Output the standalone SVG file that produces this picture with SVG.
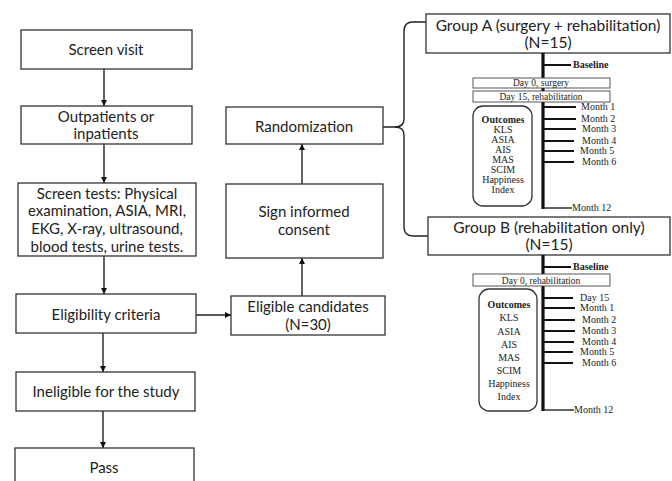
<svg xmlns="http://www.w3.org/2000/svg" width="672" height="481" viewBox="0 0 672 481">
<style>
.box{fill:#fff;stroke:#333;stroke-width:1.3}
.t{font-family:Lato,"Liberation Sans",sans-serif;font-size:15px;fill:#222;text-anchor:middle}
.g{font-family:Lato,"Liberation Sans",sans-serif;font-size:15.5px;fill:#222;text-anchor:middle}
.s{font-family:"Liberation Serif",serif;font-size:10px;fill:#222}
.sc{font-family:"Liberation Serif",serif;font-size:10px;fill:#222;text-anchor:middle}
.sd{font-family:"Liberation Serif",serif;font-size:9.5px;fill:#222;text-anchor:middle}
.b{font-weight:bold}
.ln{stroke:#222;stroke-width:1.4;fill:none}
.tl{stroke:#111;stroke-width:3.2;fill:none}
.tk{stroke:#111;stroke-width:2;fill:none}
.sb{fill:#fff;stroke:#444;stroke-width:0.9}
.ob{fill:#fff;stroke:#333;stroke-width:1.3}
</style>
<defs>
<marker id="ah" viewBox="0 0 10 10" refX="10" refY="5" markerWidth="6" markerHeight="6" markerUnits="userSpaceOnUse" orient="auto">
<path d="M0,0 L10,5 L0,10 z" fill="#111"/>
</marker>
</defs>
<rect width="672" height="481" fill="#fff"/>

<g id="connectors">
<line class="ln" x1="104" y1="69" x2="104" y2="106" marker-end="url(#ah)"/>
<line class="ln" x1="104" y1="144" x2="104" y2="183" marker-end="url(#ah)"/>
<line class="ln" x1="104" y1="256" x2="104" y2="294" marker-end="url(#ah)"/>
<line class="ln" x1="103" y1="333" x2="103" y2="372" marker-end="url(#ah)"/>
<line class="ln" x1="103" y1="411" x2="103" y2="448" marker-end="url(#ah)"/>
<line class="ln" x1="196" y1="315" x2="231" y2="315" marker-end="url(#ah)"/>
<line class="ln" x1="302" y1="296" x2="302" y2="258" marker-end="url(#ah)"/>
<line class="ln" x1="302" y1="184" x2="302" y2="144" marker-end="url(#ah)"/>
<path class="ln" d="M383,127 H395 Q404,127 404,119 V31 Q404,22 413,22 H426"/>
<path class="ln" d="M395,127 Q404,127 404,135 V227 Q404,236 413,236 H428"/>
</g>

<g id="screen-visit"><rect class="box" x="21" y="30" width="171" height="39"/><text class="t" x="106" y="55">Screen visit</text></g>
<g id="outpatients"><rect class="box" x="21" y="106" width="171" height="38"/><text class="t" x="106" y="122">Outpatients or</text><text class="t" x="106" y="139">inpatients</text></g>
<g id="screen-tests"><rect class="box" x="18" y="183" width="178" height="73"/>
<text class="t" x="107" y="199">Screen tests: Physical</text>
<text class="t" x="107" y="216">examination, ASIA, MRI,</text>
<text class="t" x="107" y="234">EKG, X-ray, ultrasound,</text>
<text class="t" x="107" y="252">blood tests, urine tests.</text></g>
<g id="eligibility"><rect class="box" x="16" y="294" width="180" height="39"/><text class="t" x="106" y="320">Eligibility criteria</text></g>
<g id="ineligible"><rect class="box" x="16" y="372" width="179" height="39"/><text class="t" x="106" y="397">Ineligible for the study</text></g>
<g id="pass"><rect class="box" x="15" y="448" width="179" height="40"/><text class="t" x="104" y="473">Pass</text></g>

<g id="randomization"><rect class="box" x="226" y="107" width="157" height="37"/><text class="t" x="304" y="132">Randomization</text></g>
<g id="consent"><rect class="box" x="226" y="184" width="157" height="74"/><text class="t" x="304" y="217">Sign informed</text><text class="t" x="304" y="235">consent</text></g>
<g id="eligible"><rect class="box" x="231" y="296" width="154" height="39"/><text class="t" x="308" y="312">Eligible candidates</text><text class="t" x="308" y="330">(N=30)</text></g>

<g id="group-a">
<rect class="box" x="426" y="14" width="244" height="39"/>
<text class="g" x="548" y="31">Group A (surgery + rehabilitation)</text>
<text class="g" x="548" y="48">(N=15)</text>
<line class="tl" x1="543" y1="53" x2="543" y2="209"/>
<line class="tk" x1="543" y1="65" x2="571" y2="65"/>
<text class="s b" x="573" y="68">Baseline</text>
<rect class="sb" x="473" y="78" width="137" height="10"/>
<text class="sd" x="541" y="86.3">Day 0, surgery</text>
<rect class="sb" x="473" y="91" width="137" height="11"/>
<text class="sd" x="541" y="99.8">Day 15, rehabilitation</text>
<line class="tk" x1="543" y1="107" x2="576" y2="107"/><text class="s" x="581" y="110">Month 1</text>
<line class="tk" x1="543" y1="119" x2="576" y2="119"/><text class="s" x="581" y="122">Month 2</text>
<line class="tk" x1="543" y1="129" x2="576" y2="129"/><text class="s" x="582" y="132">Month 3</text>
<line class="tk" x1="543" y1="141" x2="574" y2="141"/><text class="s" x="582" y="144">Month 4</text>
<line class="tk" x1="543" y1="151" x2="574" y2="151"/><text class="s" x="580" y="154">Month 5</text>
<line class="tk" x1="543" y1="162" x2="574" y2="162"/><text class="s" x="582" y="165">Month 6</text>
<line class="ln" x1="543" y1="208" x2="572" y2="208"/><text class="s" x="572" y="211">Month 12</text>
<rect class="ob" x="473" y="106" width="59" height="100" rx="10"/>
<text class="sc b" x="503" y="123">Outcomes</text>
<text class="sc" x="503" y="133">KLS</text>
<text class="sc" x="503" y="143">ASIA</text>
<text class="sc" x="503" y="153">AIS</text>
<text class="sc" x="503" y="163">MAS</text>
<text class="sc" x="503" y="173">SCIM</text>
<text class="sc" x="503" y="183">Happiness</text>
<text class="sc" x="503" y="193">Index</text>
</g>

<g id="group-b">
<rect class="box" x="428" y="217" width="242" height="38"/>
<text class="g" x="549" y="233">Group B (rehabilitation only)</text>
<text class="g" x="549" y="250">(N=15)</text>
<line class="tl" x1="543" y1="255" x2="543" y2="411"/>
<line class="tk" x1="543" y1="267" x2="571" y2="267"/>
<text class="s b" x="573" y="270">Baseline</text>
<rect class="sb" x="473" y="274" width="137" height="12"/>
<text class="sd" x="541" y="283.5">Day 0, rehabilitation</text>
<line class="tk" x1="543" y1="298" x2="573" y2="298"/><text class="s" x="580" y="301">Day 15</text>
<line class="tk" x1="543" y1="308" x2="575" y2="308"/><text class="s" x="580" y="311">Month 1</text>
<line class="tk" x1="543" y1="320" x2="575" y2="320"/><text class="s" x="582" y="323">Month 2</text>
<line class="tk" x1="543" y1="331" x2="575" y2="331"/><text class="s" x="582" y="334">Month 3</text>
<line class="tk" x1="543" y1="342" x2="574" y2="342"/><text class="s" x="582" y="345">Month 4</text>
<line class="tk" x1="543" y1="352" x2="573" y2="352"/><text class="s" x="580" y="355">Month 5</text>
<line class="tk" x1="543" y1="363" x2="573" y2="363"/><text class="s" x="582" y="366">Month 6</text>
<line class="ln" x1="543" y1="410" x2="574" y2="410"/><text class="s" x="574" y="413">Month 12</text>
<rect class="ob" x="479" y="289" width="58" height="122" rx="10"/>
<text class="sc b" x="509" y="308">Outcomes</text>
<text class="sc" x="509" y="321">KLS</text>
<text class="sc" x="509" y="335">ASIA</text>
<text class="sc" x="509" y="348">AIS</text>
<text class="sc" x="509" y="361">MAS</text>
<text class="sc" x="509" y="374">SCIM</text>
<text class="sc" x="509" y="387">Happiness</text>
<text class="sc" x="509" y="400">Index</text>
</g>
</svg>
